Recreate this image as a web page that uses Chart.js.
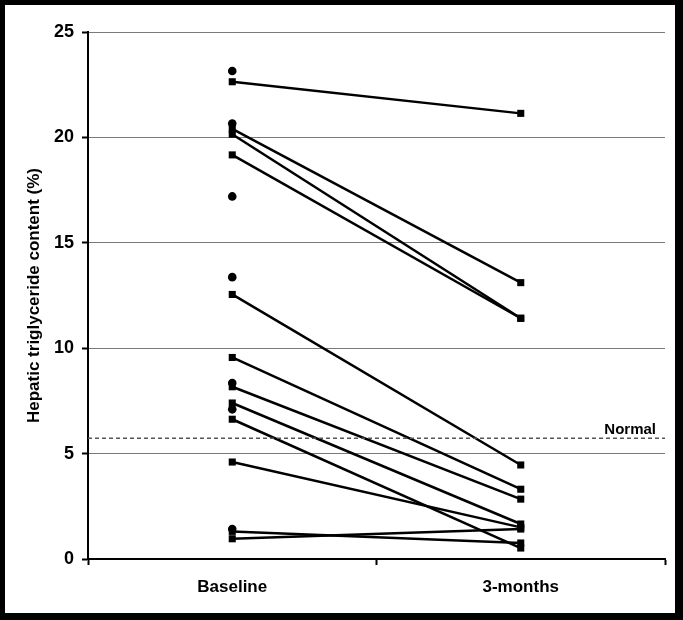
<!DOCTYPE html>
<html>
<head>
<meta charset="utf-8">
<script src="https://cdn.jsdelivr.net/npm/chart.js@4.4.0/dist/chart.umd.min.js"></script>
<style>
  html, body { margin: 0; padding: 0; background: #000; }
  #frame { position: absolute; left: 0; top: 0; width: 683px; height: 620px; background: #000; }
  #box { position: absolute; left: 5px; top: 5px; width: 670px; height: 608px; background: #fff; }
</style>
</head>
<body>
<div id="frame"><div id="box"><canvas id="chart" width="670" height="608"></canvas></div></div>
<script>
// categories on the x axis
const categories = ['Baseline', '3-months'];

// paired patients (square markers + line), baseline and 3 months, same order
const baselineValues = [22.64, 20.4, 20.15, 19.17, 12.55, 9.56, 8.17, 7.4, 6.63, 4.6, 1.31, 0.96];
const monthValues    = [21.14, 13.11, 11.42, 11.42, 4.46, 3.31, 2.84, 1.66, 0.52, 1.5, 0.76, 1.42];

// baseline-only values (round markers)
const baselineOnly = [23.15, 20.66, 17.2, 13.37, 8.35, 7.1, 1.42];

// y axis ticks
const yTicks = [0, 5, 10, 15, 20, 25];

// normal limit
const normalValue = 5.73;
const normalLabel = 'Normal';

const FONT = 'Arial, "Liberation Sans", sans-serif';

const datasets = [];
for (let i = 0; i < baselineValues.length; i++) {
  datasets.push({
    data: [baselineValues[i], monthValues[i]],
    borderColor: '#000',
    backgroundColor: '#000',
    borderWidth: 2.5,
    pointStyle: 'rect',
    pointRadius: 5,
    pointBorderWidth: 0,
    tension: 0
  });
}
datasets.push({
  data: baselineOnly.map(v => ({ x: categories[0], y: v })),
  showLine: false,
  borderColor: '#000',
  backgroundColor: '#000',
  pointStyle: 'circle',
  pointRadius: 4.3,
  pointBorderWidth: 0
});

// dashed "Normal" line across the plot
const normalLine = {
  id: 'normalLine',
  afterDatasetsDraw(chart) {
    const ctx = chart.ctx;
    const area = chart.chartArea;
    const y = chart.scales.y.getPixelForValue(normalValue);
    ctx.save();
    ctx.strokeStyle = '#555';
    ctx.lineWidth = 1.5;
    ctx.setLineDash([4, 3]);
    ctx.beginPath();
    ctx.moveTo(area.left, y);
    ctx.lineTo(area.right, y);
    ctx.stroke();
    ctx.setLineDash([]);
    ctx.fillStyle = '#000';
    ctx.font = 'bold 15px ' + FONT;
    ctx.textAlign = 'right';
    ctx.textBaseline = 'bottom';
    ctx.fillText(normalLabel, area.right - 9, y - 1);
    ctx.restore();
  }
};

new Chart(document.getElementById('chart'), {
  type: 'line',
  data: { labels: categories, datasets: datasets },
  options: {
    responsive: false,
    animation: false,
    events: [],
    layout: { padding: { left: 0, top: 27, right: 10, bottom: 0 } },
    plugins: { legend: { display: false }, tooltip: { enabled: false } },
    scales: {
      x: {
        type: 'category',
        offset: true,
        afterFit(scale) { scale.height = 54; },
        grid: {
          offset: true,
          drawOnChartArea: false,
          drawTicks: true,
          tickLength: 6,
          tickColor: '#000',
          tickWidth: 2
        },
        border: { color: '#000', width: 2 },
        ticks: {
          color: '#000',
          padding: 12,
          font: { family: FONT, size: 17, weight: 'bold' }
        }
      },
      y: {
        min: 0,
        max: 25,
        afterFit(scale) { scale.width = 83; },
        afterBuildTicks(scale) { scale.ticks = yTicks.map(v => ({ value: v })); },
        grid: {
          color: '#7a7a7a',
          lineWidth: 1,
          drawTicks: true,
          tickLength: 6,
          tickColor: '#000',
          tickWidth: 2
        },
        border: { color: '#000', width: 2 },
        ticks: {
          color: '#000',
          padding: 8,
          font: { family: FONT, size: 18, weight: 'bold' }
        },
        title: {
          display: true,
          text: 'Hepatic triglyceride content (%)',
          color: '#000',
          padding: { top: 19, bottom: 0 },
          font: { family: FONT, size: 17, weight: 'bold' }
        }
      }
    }
  },
  plugins: [normalLine]
});
</script>
</body>
</html>
